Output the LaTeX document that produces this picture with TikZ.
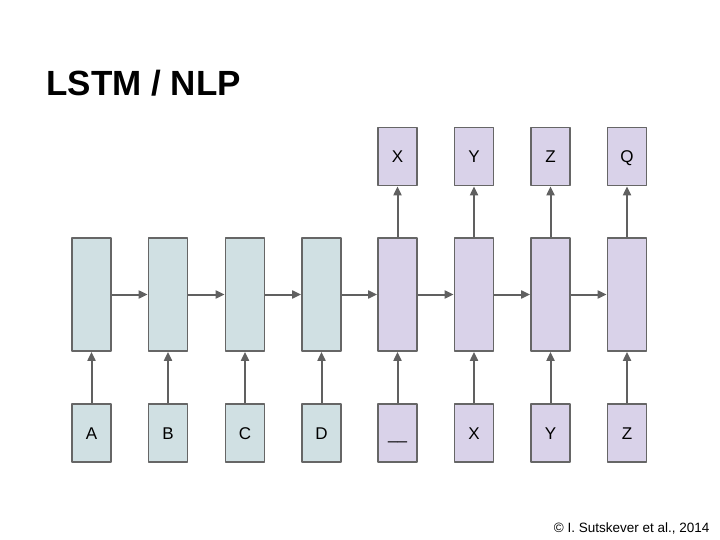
\documentclass[tikz,border=0pt]{standalone}
\usepackage{fontspec}
\setmainfont{Liberation Sans}
\usetikzlibrary{arrows.meta}
\begin{document}
\begin{tikzpicture}[x=1pt,y=-1pt,line join=round]
            \definecolor{cellblue}{HTML}{D0E0E3}
            \definecolor{celllilac}{HTML}{D9D2E9}
            \definecolor{rimgrey}{HTML}{666666}
            \definecolor{arrowgrey}{HTML}{606060}
            \tikzset{
                cell/.style={draw=rimgrey,line width=1.8pt,minimum width=39pt,minimum height=113pt,inner sep=0pt},
                tok/.style={draw=rimgrey,line width=1.8pt,minimum width=39pt,minimum height=58pt,inner sep=0pt,
                    font=\fontsize{17}{17}\selectfont,text height=12.5pt,text depth=0pt},
                enc/.style={fill=cellblue},
                dec/.style={fill=celllilac},
                flow/.style={draw=arrowgrey,line width=2pt,-{Triangle[length=9pt,width=8pt]}}
            }
            \useasboundingbox (0,0) rectangle (720,540);
            \node[anchor=base west,font=\fontsize{35}{35}\selectfont\bfseries] (title) at (43,96) {LSTM / NLP};
            % encoder
            \node[cell,enc] (c1) at (91.5,294.5) {};
            \node[cell,enc] (c2) at (168,294.5) {};
            \node[cell,enc] (c3) at (245,294.5) {};
            \node[cell,enc] (c4) at (321.5,294.5) {};
            \node[tok,enc] (i1) at (91.5,433) {A};
            \node[tok,enc] (i2) at (168,433) {B};
            \node[tok,enc] (i3) at (245,433) {C};
            \node[tok,enc] (i4) at (321.5,433) {D};
            % decoder
            \node[cell,dec] (c5) at (397.5,294.5) {};
            \node[cell,dec] (c6) at (474,294.5) {};
            \node[cell,dec] (c7) at (550.5,294.5) {};
            \node[cell,dec] (c8) at (627,294.5) {};
            \node[tok,dec] (i5) at (397.5,433) {\_\_};
            \node[tok,dec] (i6) at (474,433) {X};
            \node[tok,dec] (i7) at (550.5,433) {Y};
            \node[tok,dec] (i8) at (627,433) {Z};
            \node[tok,dec] (o5) at (397.5,156.5) {X};
            \node[tok,dec] (o6) at (474,156.5) {Y};
            \node[tok,dec] (o7) at (550.5,156.5) {Z};
            \node[tok,dec] (o8) at (627,156.5) {Q};
            % connections
            \draw[flow] (c1) -- (c2);
            \draw[flow] (c2) -- (c3);
            \draw[flow] (c3) -- (c4);
            \draw[flow] (c4) -- (c5);
            \draw[flow] (c5) -- (c6);
            \draw[flow] (c6) -- (c7);
            \draw[flow] (c7) -- (c8);
            \draw[flow] (i1) -- (c1);
            \draw[flow] (i2) -- (c2);
            \draw[flow] (i3) -- (c3);
            \draw[flow] (i4) -- (c4);
            \draw[flow] (i5) -- (c5);
            \draw[flow] (i6) -- (c6);
            \draw[flow] (i7) -- (c7);
            \draw[flow] (i8) -- (c8);
            \draw[flow] (c5) -- (o5);
            \draw[flow] (c6) -- (o6);
            \draw[flow] (c7) -- (o7);
            \draw[flow] (c8) -- (o8);
            \node[anchor=base east,font=\fontsize{13.5}{13.5}\selectfont] (credit) at (713,532) {© I. Sutskever et al., 2014};
\end{tikzpicture}
\end{document}
